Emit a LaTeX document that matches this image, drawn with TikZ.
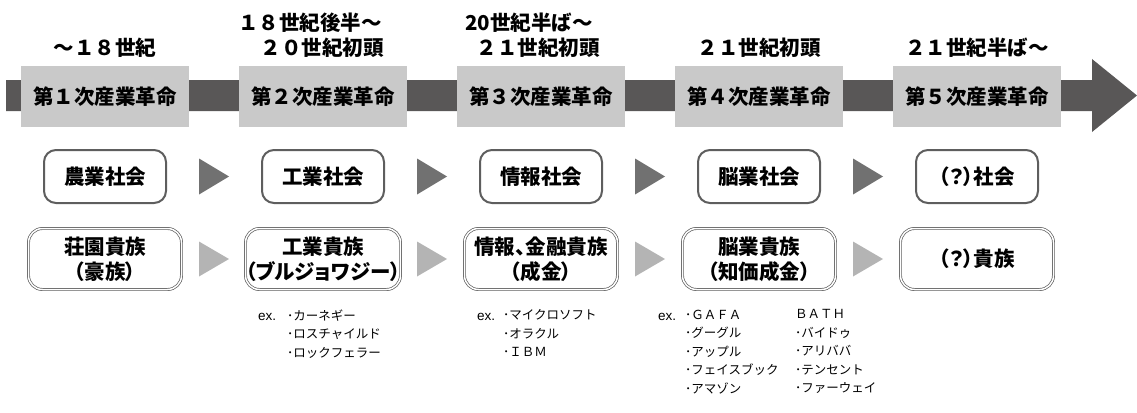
\documentclass[tikz,border=0pt]{standalone}
\usepackage{fontspec}
\setmainfont{Liberation Sans}
\newfontfamily\jp{Noto Sans CJK JP}
\newfontfamily\jpp{Noto Sans CJK JP}[RawFeature=+palt]
\usetikzlibrary{calc}
\definecolor{barc}{HTML}{595757}
\definecolor{boxgray}{HTML}{C9C9C9}
\definecolor{bordergray}{HTML}{5E5E5E}
\definecolor{tridark}{HTML}{717171}
\definecolor{trilight}{HTML}{B4B4B4}
\begin{document}
\begin{tikzpicture}[x=1pt,y=-1pt,
  era/.style={fill=boxgray, minimum width=168pt, minimum height=61pt, inner sep=0pt,
    font=\jp\bfseries\fontsize{20.5}{24}\selectfont},
  soc/.style={draw=bordergray, line width=2pt, rounded corners=12pt, fill=white,
    minimum width=122pt, minimum height=53pt, inner sep=0pt,
    font=\jpp\bfseries\fontsize{20.5}{24}\selectfont},
  elite/.style={draw=bordergray, double=white, double distance=1.5pt, line width=0.7pt,
    rounded corners=14pt, minimum width=153pt, minimum height=61pt, inner sep=0pt, align=center,
    font=\jpp\bfseries\fontsize{20.5}{25}\selectfont},
  datelbl/.style={inner sep=0pt, font=\jp\bfseries\fontsize{20.5}{24}\selectfont},
  exlbl/.style={inner sep=0pt, anchor=base west, font=\fontsize{13.5}{18.5}\selectfont},
  exlist/.style={inner sep=0pt, anchor=north west, align=left, font=\jp\fontsize{12.5}{18.5}\selectfont},
  tri2/.style={fill=tridark},
  tri3/.style={fill=trilight}
]
\useasboundingbox (0,0) rectangle (1137,412);
% main arrow
\fill[barc] (6,80) -- (1092,80) -- (1092,59) -- (1137,95.5) -- (1092,132) -- (1092,111) -- (6,111) -- cycle;
% era boxes
\node[era] (e1) at (105,96.5) {第１次産業革命};
\node[era] (e2) at (323,96.5) {第２次産業革命};
\node[era] (e3) at (541,96.5) {第３次産業革命};
\node[era] (e4) at (759,96.5) {第４次産業革命};
\node[era] (e5) at (977,96.5) {第５次産業革命};
% dates
\node[datelbl] (d1) at (105,48) {～１８世紀};
\node[datelbl] (d2a) at (310,23) {１８世紀後半～};
\node[datelbl] (d2b) at (322,48) {２０世紀初頭};
\node[datelbl] (d3a) at (529,23) {20世紀半ば～};
\node[datelbl] (d3b) at (538,48) {２１世紀初頭};
\node[datelbl] (d4) at (759,48) {２１世紀初頭};
\node[datelbl] (d5) at (977,48) {２１世紀半ば～};
% societies
\node[soc] (s1) at (105,176.5) {農業社会};
\node[soc] (s2) at (323,176.5) {工業社会};
\node[soc] (s3) at (541,176.5) {情報社会};
\node[soc] (s4) at (759,176.5) {脳業社会};
\node[soc] (s5) at (977,176.5) {（？）社会};
% elites
\node[elite] (n1) at (105,259) {荘園貴族\\（豪族）};
\node[elite] (n2) at (323,259) {工業貴族\\（ブルジョワジー）};
\node[elite] (n3) at (541,259) {情報、金融貴族\\（成金）};
\node[elite] (n4) at (759,259) {脳業貴族\\（知価成金）};
\node[elite] (n5) at (977,259) {（？）貴族};
% triangles
\foreach \a/\b in {s1/s2,s2/s3,s3/s4,s4/s5}{
  \fill[tri2] ($(\a)!0.5!(\b)$) +(-15,-18) -- +(15,0) -- +(-15,18) -- cycle;
}
\foreach \a/\b in {n1/n2,n2/n3,n3/n4,n4/n5}{
  \fill[tri3] ($(\a)!0.5!(\b)$) +(-15,-17.5) -- +(15,0) -- +(-15,17.5) -- cycle;
}
% examples
\node[exlbl] (x2) at (258,320.5) {ex.};
\node[exlist] (l2) at (287,309.5) {･カーネギー\\･ロスチャイルド\\･ロックフェラー};
\node[exlbl] (x3) at (477,320.5) {ex.};
\node[exlist] (l3) at (503,309.5) {･マイクロソフト\\･オラクル\\･ＩＢＭ};
\node[exlbl] (x4) at (658,320.5) {ex.};
\node[exlist] (l4) at (685,309.5) {･ＧＡＦＡ\\･グーグル\\･アップル\\･フェイスブック\\･アマゾン};
\node[exlist] (l5) at (795,309.5) {ＢＡＴＨ\\･バイドゥ\\･アリババ\\･テンセント\\･ファーウェイ};
\end{tikzpicture}
\end{document}
